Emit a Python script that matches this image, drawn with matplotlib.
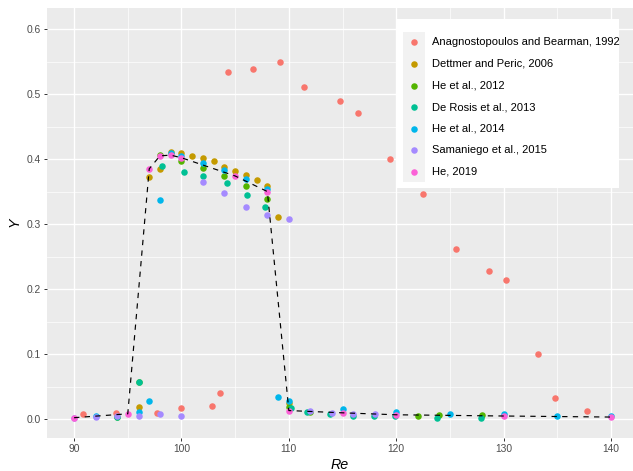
import matplotlib
matplotlib.use("Agg")
import matplotlib.pyplot as plt
from matplotlib.patches import Rectangle

plt.rcParams["font.family"] = ["Liberation Sans", "DejaVu Sans"]

# Strouhal-type response Y against Reynolds number, one list pair per study
anag_re = [90.8, 93.9, 97.7, 100.0, 102.8, 103.6, 104.3, 106.7, 109.2, 111.4,
           114.8, 116.4, 119.45, 122.5, 125.6, 128.6, 130.2, 133.2, 134.8, 137.8]
anag_y = [0.007, 0.010, 0.010, 0.017, 0.020, 0.040, 0.534, 0.538, 0.549, 0.511,
          0.490, 0.471, 0.400, 0.346, 0.262, 0.227, 0.214, 0.100, 0.033, 0.012]

dettmer_re = [96, 97, 98, 99, 100, 101, 102, 103, 104, 105, 106, 107, 108, 109, 110]
dettmer_y = [0.019, 0.372, 0.385, 0.411, 0.410, 0.405, 0.401, 0.397, 0.388,
             0.382, 0.375, 0.368, 0.359, 0.311, 0.024]

he12_re = [94, 96, 98, 100, 102, 104, 106, 108, 110, 112, 122, 124, 128]
he12_y = [0.003, 0.057, 0.407, 0.397, 0.386, 0.374, 0.358, 0.338, 0.018, 0.011,
          0.005, 0.006, 0.006]

rosis_re = [94, 96, 98.2, 100.2, 102, 104.2, 106.1, 107.8, 110.2, 111.7, 113.8,
            116, 117.9, 119.9, 123.8, 127.9]
rosis_y = [0.003, 0.057, 0.389, 0.380, 0.374, 0.363, 0.344, 0.327, 0.017, 0.011,
           0.007, 0.005, 0.005, 0.004, 0.002, 0.001]

he14_re = [92, 96, 97, 98, 99, 100, 102, 104, 106, 108, 109, 110, 115, 120, 125,
           130, 135, 140]
he14_y = [0.005, 0.011, 0.028, 0.337, 0.409, 0.405, 0.394, 0.383, 0.369, 0.354,
          0.034, 0.027, 0.015, 0.011, 0.008, 0.007, 0.005, 0.005]

sam_re = [90, 92, 94, 96, 98, 100, 102, 104, 106, 108, 110, 112, 114, 116, 118]
sam_y = [0.002, 0.003, 0.005, 0.004, 0.007, 0.004, 0.365, 0.348, 0.327, 0.314,
         0.308, 0.012, 0.009, 0.007, 0.007]

he19_re = [90, 95, 97, 98, 99, 100, 105, 108, 110, 115, 120, 130, 140]
he19_y = [0.002, 0.008, 0.385, 0.405, 0.406, 0.402, 0.374, 0.350, 0.013, 0.0095,
          0.0065, 0.0046, 0.003]

studies = ["Anagnostopoulos and Bearman, 1992", "Dettmer and Peric, 2006",
           "He et al., 2012", "De Rosis et al., 2013", "He et al., 2014",
           "Samaniego et al., 2015", "He, 2019"]
colors = ["#F8766D", "#C49A00", "#53B400", "#00C094", "#00B6EB", "#A58AFF", "#FB61D7"]
series = [(anag_re, anag_y), (dettmer_re, dettmer_y), (he12_re, he12_y),
          (rosis_re, rosis_y), (he14_re, he14_y), (sam_re, sam_y), (he19_re, he19_y)]

W, H = 633, 471
fig = plt.figure(figsize=(W / 100, H / 100), dpi=100)
ax = fig.add_axes([46.7 / W, 1 - 438.3 / H, (W - 46.7) / W, (438.3 - 8.3) / H])
ax.set_facecolor("#EBEBEB")
for s in ax.spines.values():
    s.set_visible(False)

handles = []
for (xs, ys), name, c in zip(series, studies, colors):
    h = ax.scatter(xs, ys, s=22, color=c, linewidths=0, label=name, zorder=3)
    handles.append(h)

# dashed curve through the He (2019) results
ax.plot(he19_re, he19_y, color="black", linewidth=0.85, linestyle=(0, (4.5, 4.5)), zorder=3.5)

ax.set_xlim(87.45, 142.05)
ax.set_ylim(-0.0297, 0.632)
ax.set_xticks([90, 100, 110, 120, 130, 140])
ax.set_xticks([95, 105, 115, 125, 135], minor=True)
ax.set_yticks([0.0, 0.1, 0.2, 0.3, 0.4, 0.5, 0.6])
ax.set_yticks([0.05, 0.15, 0.25, 0.35, 0.45, 0.55], minor=True)
ax.set_yticklabels(["0.0", "0.1", "0.2", "0.3", "0.4", "0.5", "0.6"])
ax.grid(which="major", color="white", linewidth=1.0)
ax.grid(which="minor", color="white", linewidth=0.5)
ax.set_axisbelow(True)
ax.tick_params(which="major", length=2.4, width=0.7, color="#333333",
               labelcolor="#4D4D4D", labelsize=7.4, pad=2)
ax.tick_params(which="minor", length=0)

fig.text(340 / W, 1 - 465 / H, "Re", style="italic", fontsize=10.3, ha="center", va="center")
fig.text(15 / W, 1 - 222 / H, "Y", style="italic", fontsize=10.3, ha="center", va="center",
         rotation=90)

# legend panel: white box with a light key column
ax.add_patch(Rectangle((396.7 / W, 1 - 188.3 / H), (619 - 396.7) / W, (188.3 - 19.3) / H,
                       transform=fig.transFigure, facecolor="white", edgecolor="none",
                       zorder=4, clip_on=False))
ax.add_patch(Rectangle((403.3 / W, 1 - 181.7 / H), (425 - 403.3) / W, (181.7 - 32) / H,
                       transform=fig.transFigure, facecolor="#F2F2F2", edgecolor="none",
                       zorder=4.1, clip_on=False))
leg = ax.legend(handles=handles, loc="upper left", bbox_to_anchor=(408.4 / W, 1 - 37.4 / H),
                bbox_transform=fig.transFigure, frameon=False, fontsize=8.0,
                borderpad=0, borderaxespad=0, handlelength=1.0, handletextpad=1.12,
                labelspacing=1.04, scatterpoints=1)
leg.set_zorder(5)

fig.savefig("out.png", dpi=100)
